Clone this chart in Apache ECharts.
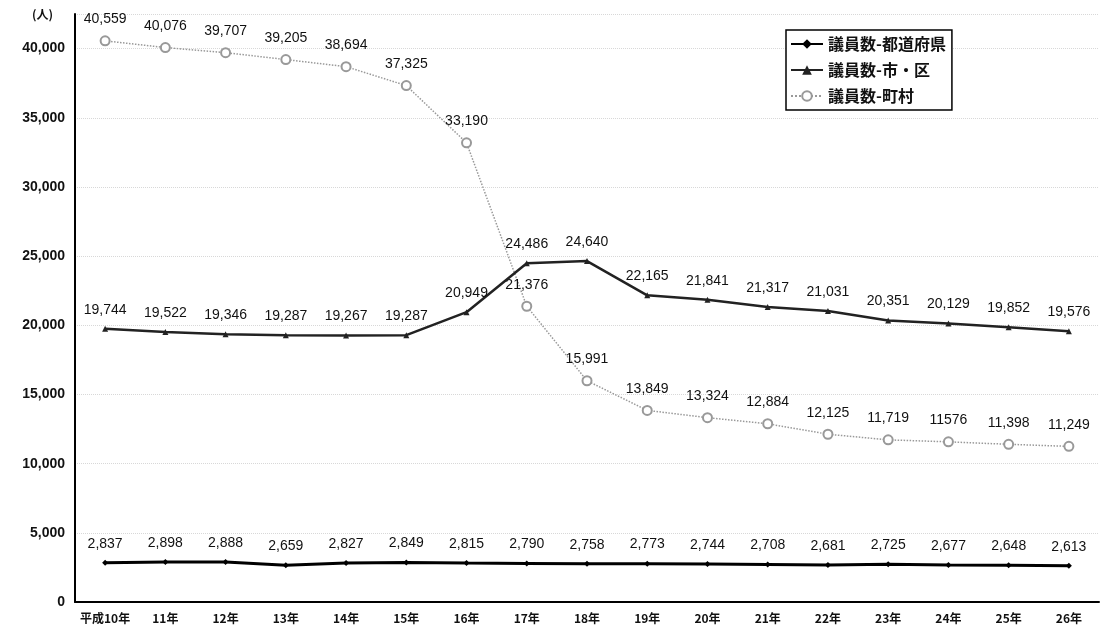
<!DOCTYPE html>
<html>
<head>
<meta charset="utf-8">
<script src="https://cdn.jsdelivr.net/npm/echarts@6/dist/echarts.min.js"></script>
<style>
html,body{margin:0;padding:0;background:#fff;}
#c{width:1102px;height:630px;}
</style>
</head>
<body>
<div id="c"></div>
<script>
const categories = ['平成10年','11年','12年','13年','14年','15年','16年','17年','18年','19年','20年','21年','22年','23年','24年','25年','26年'];
const prefValues = [2837, 2898, 2888, 2659, 2827, 2849, 2815, 2790, 2758, 2773, 2744, 2708, 2681, 2725, 2677, 2648, 2613];
const cityValues = [19744, 19522, 19346, 19287, 19267, 19287, 20949, 24486, 24640, 22165, 21841, 21317, 21031, 20351, 20129, 19852, 19576];
const townValues = [40559, 40076, 39707, 39205, 38694, 37325, 33190, 21376, 15991, 13849, 13324, 12884, 12125, 11719, 11576, 11398, 11249];
const seriesNames = ['議員数-都道府県', '議員数-市・区', '議員数-町村'];
const yTickValues = [0, 5000, 10000, 15000, 20000, 25000, 30000, 35000, 40000];
const yUnit = '(人)';

const numFont = '"Liberation Sans", Arial, sans-serif';
const cjkFont = '"Noto Sans CJK JP", "Liberation Sans", sans-serif';

function fmt(v){ return v === 11576 ? '11576' : v.toLocaleString('en-US'); }

const chart = echarts.init(document.getElementById('c'), null, {renderer:'canvas'});
const labelCommon = {
  show: true, position: 'top', distance: 9,
  fontFamily: numFont, fontSize: 14, color: '#111',
  formatter: p => fmt(p.value)
};
chart.setOption({
  backgroundColor: '#fff',
  animation: false,
  grid: {left: 75, right: 3, top: 14, bottom: 28},
  legend: {
    orient: 'vertical', left: 786, top: 30,
    backgroundColor: '#fff', borderColor: '#000', borderWidth: 1.5,
    padding: [6, 6, 6, 4], itemGap: 10, itemWidth: 32, itemHeight: 12,
    textStyle: {fontFamily: cjkFont, fontSize: 16, fontWeight: 'bold', color: '#111'},
    data: seriesNames
  },
  xAxis: {
    type: 'category', data: categories, boundaryGap: true,
    axisLine: {lineStyle: {color: '#000', width: 2}},
    axisTick: {show: false},
    axisLabel: {fontFamily: cjkFont, fontSize: 12, fontWeight: 'bold', color: '#111', margin: 10, interval: 0}
  },
  yAxis: {
    type: 'value', min: 0, max: 42500, interval: 5000,
    axisLine: {show: true, lineStyle: {color: '#000', width: 2}},
    axisTick: {show: false},
    splitLine: {show: true, lineStyle: {color: '#d8d8d8', type: 'dotted', width: 1}},
    axisLabel: {
      fontFamily: numFont, fontSize: 14, fontWeight: 'bold', color: '#111', margin: 10,
      formatter: v => yTickValues.includes(v) ? v.toLocaleString('en-US') : (v === 42500 ? '{u|' + yUnit + '}' : ''),
      rich: {u: {fontFamily: cjkFont, fontSize: 12, fontWeight: 'bold', color: '#111', padding: [0, 12, 0, 0]}}
    }
  },
  series: [
    {
      name: seriesNames[0], type: 'line', data: prefValues,
      symbol: 'diamond', symbolSize: 6,
      lineStyle: {color: '#000', width: 3}, itemStyle: {color: '#000'},
      label: labelCommon, z: 3
    },
    {
      name: seriesNames[1], type: 'line', data: cityValues,
      symbol: 'triangle', symbolSize: 6,
      lineStyle: {color: '#222', width: 2.5}, itemStyle: {color: '#222'},
      label: labelCommon, z: 3
    },
    {
      name: seriesNames[2], type: 'line', data: townValues,
      symbol: 'emptyCircle', symbolSize: 9,
      lineStyle: {color: '#999', width: 1.5, type: 'dotted'}, itemStyle: {color: '#999', borderWidth: 1},
      label: labelCommon, z: 2
    }
  ]
});
</script>
</body>
</html>
